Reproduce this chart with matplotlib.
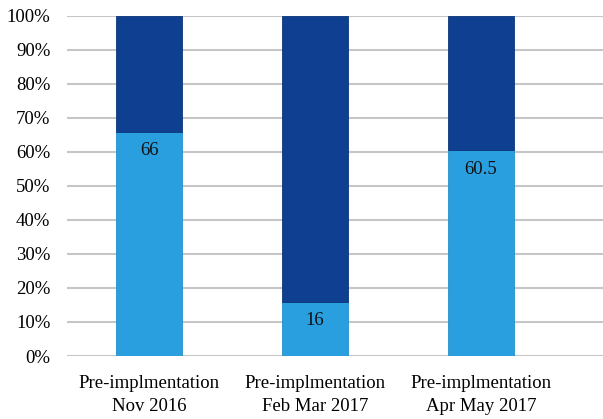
import matplotlib.pyplot as plt
import numpy as np

plt.rcParams['font.family'] = ['Liberation Serif', 'DejaVu Serif']

# data
categories = ['Pre-implmentation\nNov 2016',
              'Pre-implmentation\nFeb Mar 2017',
              'Pre-implmentation\nApr May 2017']
lower_vals = [66, 16, 60.5]
upper_vals = [100 - v for v in lower_vals]
lower_labels = ['66', '16', '60.5']

light_blue = '#2A9FDF'
dark_blue = '#0F3F90'

fig = plt.figure(figsize=(6.03, 4.19), dpi=100)
ax = fig.add_axes([67 / 603, 1 - 356 / 419, (603 - 67) / 603, (356 - 16) / 419])

x = np.arange(len(categories))
width = 0.4
ax.bar(x, lower_vals, width=width, color=light_blue, edgecolor='#2390c8', linewidth=0.6, zorder=3)
ax.bar(x, upper_vals, width=width, bottom=lower_vals, color=dark_blue,
       edgecolor='#0c3578', linewidth=0.6, zorder=3)

for xi, v, lab in zip(x, lower_vals, lower_labels):
    ax.text(xi, v - 3, lab, ha='center', va='top', fontsize=13.5, color='#111111', zorder=4)

ax.set_ylim(0, 100)
ax.set_xlim(-0.494, 2.735)
ax.set_yticks(np.arange(0, 101, 10))
ax.set_yticklabels([f'{t}%' for t in range(0, 101, 10)], fontsize=13.5)
ax.set_xticks(x)
ax.set_xticklabels(categories, fontsize=13.5, linespacing=1.4)

ax.grid(True, axis='y', color='#c6c6c6', linewidth=1.5, zorder=0)
ax.set_axisbelow(True)
for s in ax.spines.values():
    s.set_visible(False)
ax.tick_params(axis='x', length=0, pad=14)
ax.tick_params(axis='y', length=0, pad=12)

plt.savefig('out.png', dpi=100)
